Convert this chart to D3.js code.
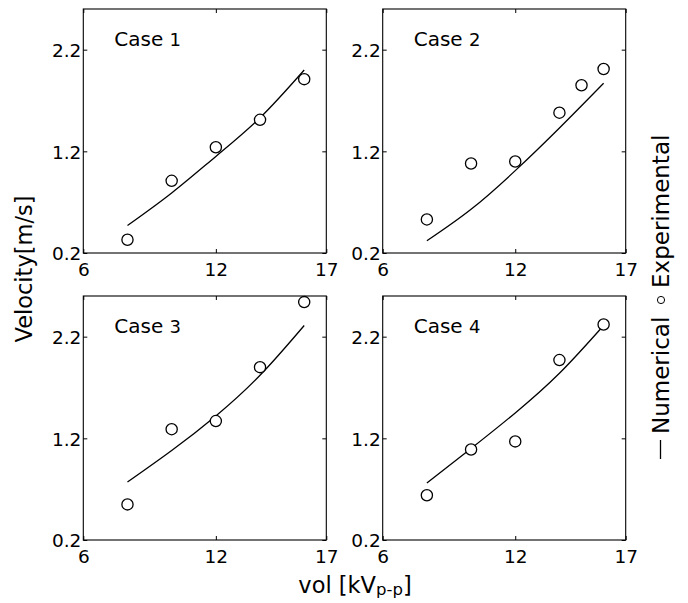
<!DOCTYPE html>
<html>
<head>
<meta charset="utf-8">
<script src="https://cdn.jsdelivr.net/npm/d3@7"></script>
<style>
  html, body { margin: 0; padding: 0; background: #fff; }
  svg { display: block; }
  text { font-family: "DejaVu Sans", sans-serif; fill: #000; }
</style>
</head>
<body>
<svg id="chart" width="688" height="603"></svg>
<script>
// ---- data ----
const caseNums = ["1", "2", "3", "4"];
const xTicks = [6, 12, 17];
const yTicks = [0.2, 1.2, 2.2];
const xTickLabels = ["6", "12", "17"];
const yTickLabels = ["0.2", "1.2", "2.2"];

const numX = [8, 10, 12, 14, 16];
const numCase1 = [0.47, 0.79, 1.15, 1.53, 2.00];
const numCase2 = [0.32, 0.63, 1.01, 1.43, 1.87];
const numCase3 = [0.77, 1.08, 1.42, 1.82, 2.31];
const numCase4 = [0.76, 1.10, 1.45, 1.84, 2.31];

const expX1 = [8, 10, 12, 14, 16];
const expCase1 = [0.33, 0.91, 1.24, 1.51, 1.91];
const expX2 = [8, 10, 12, 14, 15, 16];
const expCase2 = [0.53, 1.08, 1.10, 1.58, 1.85, 2.01];
const expX3 = [8, 10, 12, 14, 16];
const expCase3 = [0.55, 1.29, 1.37, 1.90, 2.54];
const expX4 = [8, 10, 12, 14, 16];
const expCase4 = [0.64, 1.09, 1.17, 1.97, 2.32];

const xLabel = "vol [kV";
const xLabelSub = "p-p";
const xLabelEnd = "]";
const yLabel = "Velocity[m/s]";
const legendNum = "Numerical";
const legendExp = "Experimental";

// ---- layout ----
const panels = [
  { num: caseNums[0], nx: numX, ny: numCase1, ex: expX1, ey: expCase1, left: 83.3, top: 9 },
  { num: caseNums[1], nx: numX, ny: numCase2, ex: expX2, ey: expCase2, left: 382.7, top: 9 },
  { num: caseNums[2], nx: numX, ny: numCase3, ex: expX3, ey: expCase3, left: 83.3, top: 296 },
  { num: caseNums[3], nx: numX, ny: numCase4, ex: expX4, ey: expCase4, left: 382.7, top: 296 }
];
const pw = 243, ph = 244;
const tickFont = "18.5px";

const svg = d3.select("#chart");
svg.append("rect").attr("width", 688).attr("height", 603).attr("fill", "#fff");

panels.forEach(p => {
  const x = d3.scaleLinear().domain([6, 17]).range([0, pw]);
  const y = d3.scaleLinear().domain([0.2, 2.6]).range([ph, 0]);
  const g = svg.append("g").attr("transform", `translate(${p.left},${p.top})`);

  // ticks (inward, all four sides)
  const fmtX = (d, i) => xTickLabels[i];
  const fmtY = (d, i) => yTickLabels[i];
  const bx = g.append("g").attr("transform", `translate(0,${ph})`)
    .call(d3.axisBottom(x).tickValues(xTicks).tickFormat(fmtX).tickSizeInner(-4).tickPadding(7));
  const lx = g.append("g")
    .call(d3.axisLeft(y).tickValues(yTicks).tickFormat(fmtY).tickSizeInner(-4).tickPadding(7));
  g.append("g").call(d3.axisTop(x).tickValues(xTicks).tickFormat("").tickSizeInner(-4));
  g.append("g").attr("transform", `translate(${pw},0)`)
    .call(d3.axisRight(y).tickValues(yTicks).tickFormat("").tickSizeInner(-4));
  g.selectAll(".domain").remove();
  g.selectAll(".tick line").attr("stroke", "#000").attr("stroke-width", 1);
  bx.selectAll("text").attr("font-size", tickFont).attr("font-family", "DejaVu Sans")
    .attr("dy", null).attr("y", 22.5).attr("fill", "#000");
  lx.selectAll("text").attr("font-size", tickFont).attr("font-family", "DejaVu Sans")
    .attr("x", -2).attr("dy", "0.36em").attr("fill", "#000");

  // frame
  g.append("rect").attr("width", pw).attr("height", ph)
    .attr("fill", "none").attr("stroke", "#000").attr("stroke-width", 1.1);

  // numerical line
  const line = d3.line().x((d, i) => x(p.nx[i])).y(d => y(d)).curve(d3.curveNatural);
  g.append("path").datum(p.ny).attr("d", line)
    .attr("fill", "none").attr("stroke", "#000").attr("stroke-width", 1.3);

  // experimental circles
  g.selectAll("circle.exp").data(p.ey).enter().append("circle")
    .attr("class", "exp")
    .attr("cx", (d, i) => x(p.ex[i])).attr("cy", d => y(d)).attr("r", 5.6)
    .attr("fill", "#fff").attr("stroke", "#000").attr("stroke-width", 1.3);

  // case label
  const t = g.append("text").attr("x", 31).attr("y", 36.5).attr("font-size", "20px");
  t.append("tspan").text("Case ");
  t.append("tspan").attr("font-size", "18px").text(p.num);
});

// x-axis label
const xl = svg.append("text").attr("x", 355).attr("y", 593)
  .attr("text-anchor", "middle").attr("font-size", "22.5px");
xl.append("tspan").text(xLabel);
xl.append("tspan").attr("font-size", "16.5px").attr("dy", 2).text(xLabelSub);
xl.append("tspan").attr("dy", -2).text(xLabelEnd);

// y-axis label
svg.append("text").attr("transform", "translate(32,269) rotate(-90)")
  .attr("text-anchor", "middle").attr("font-size", "22.5px").text(yLabel);

// legend (rotated)
svg.append("line").attr("x1", 660.5).attr("x2", 660.5).attr("y1", 440).attr("y2", 459)
  .attr("stroke", "#000").attr("stroke-width", 1.3);
svg.append("text").attr("transform", "translate(668.5,434) rotate(-90)")
  .attr("text-anchor", "start").attr("font-size", "23px").text(legendNum);
svg.append("circle").attr("cx", 661).attr("cy", 300).attr("r", 3.6)
  .attr("fill", "#fff").attr("stroke", "#000").attr("stroke-width", 1);
svg.append("text").attr("transform", "translate(668.5,288) rotate(-90)")
  .attr("text-anchor", "start").attr("font-size", "23px").text(legendExp);
</script>
</body>
</html>
